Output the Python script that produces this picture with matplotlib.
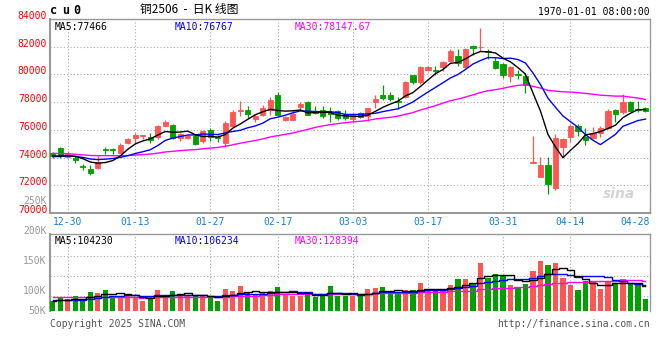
import matplotlib
matplotlib.use("Agg")
import matplotlib.pyplot as plt
import matplotlib.transforms as mtransforms
import numpy as np
import pandas as pd

plt.rcParams['font.family'] = ['DejaVu Sans Mono', 'Noto Sans CJK SC']

# daily candles, 12-26 .. 04-28 (80 sessions)
opens = [74300, 74670, 74050, 74000, 73360, 73210, 73240, 74590, 74590, 74310,
         75020, 75400, 75550, 75500, 75500, 76310, 76380, 75380, 75400, 75590,
         75190, 76020, 75480, 75070, 76260, 77380, 77450, 76790, 77070, 77400,
         78520, 76690, 76740, 77640, 78020, 77380, 77450, 77260, 77380, 77150,
         76790, 77190, 77000, 77980, 78500, 78500, 78070, 78380, 79930, 79450,
         80330, 80330, 80520, 81000, 81360, 80520, 82070, 81950, 81710, 81000,
         80740, 79900, 80000, 79880, 73640, 72620, 73450, 71810, 74760, 75480,
         76310, 75520, 75430, 75790, 76140, 77450, 77260, 78020, 77500, 77570]
closes = [74100, 74120, 74290, 73810, 73300, 72880, 73690, 74520, 74520, 74930,
          75310, 75640, 75600, 75260, 76310, 76590, 75380, 75670, 75590, 75000,
          75950, 75480, 75380, 76500, 77310, 77450, 77170, 77020, 77590, 78170,
          77050, 76930, 77140, 77880, 77090, 77210, 76980, 77120, 76860, 76850,
          77070, 76950, 77550, 78260, 78310, 78240, 77980, 79450, 79450, 80520,
          80570, 80280, 80930, 81710, 80830, 81830, 81900, 82000, 81590, 80450,
          79950, 80550, 79930, 79240, 73650, 73450, 72100, 75380, 75360, 76310,
          75910, 75260, 75790, 76140, 77380, 77120, 77980, 77380, 77450, 77380]
highs = [74400, 74790, 74450, 74120, 73520, 73450, 74120, 74760, 74710, 75020,
         75400, 75740, 75640, 75790, 76380, 76740, 76450, 75740, 75640, 75690,
         76020, 76100, 75600, 76620, 77450, 78050, 77740, 77090, 77810, 78400,
         78710, 77020, 77450, 77980, 78050, 77690, 77690, 77640, 77450, 77400,
         77190, 77260, 77590, 78550, 79260, 78740, 78380, 79500, 79970, 80590,
         80640, 80640, 81000, 81830, 81830, 81900, 82140, 83330, 81830, 81240,
         80830, 80590, 80310, 80070, 75550, 74070, 74070, 75720, 75430, 76450,
         76450, 76140, 76210, 76260, 77500, 77500, 78600, 78100, 78050, 77620]
lows = [74000, 74000, 73980, 73640, 73100, 72740, 73170, 74240, 74290, 74260,
        74980, 74950, 75310, 75020, 75310, 76260, 75360, 75190, 75310, 74880,
        75070, 75190, 75140, 74830, 76210, 76980, 76880, 76550, 77020, 77090,
        76980, 76620, 76690, 77330, 77050, 77160, 76860, 76570, 76740, 76740,
        76640, 76880, 76640, 77590, 78120, 78070, 77500, 78310, 79330, 79330,
        80280, 79930, 80280, 80880, 80640, 80450, 81400, 81660, 81120, 80400,
        79760, 79480, 79640, 78690, 73640, 72620, 71340, 71690, 74050, 75140,
        75550, 74880, 75310, 75480, 76070, 76550, 77170, 77330, 77260, 77260]
volumes = [82800, 88400, 86200, 91700, 85600, 97800, 96200, 101200, 91700, 90600,
           91700, 88400, 83400, 88400, 101200, 92800, 99500, 94500, 90600, 90600,
           91700, 87300, 83400, 102800, 99500, 107800, 95600, 94500, 95600, 99500,
           106200, 94500, 91700, 91700, 94000, 90000, 94500, 107800, 91700, 91700,
           91700, 91700, 102800, 104500, 106200, 94500, 94500, 101200, 101200, 112800,
           101200, 100000, 102800, 109500, 119500, 119500, 112800, 146200, 121700, 127800,
           126200, 109500, 106200, 111200, 132800, 149500, 142800, 146200, 121700, 109500,
           101200, 116200, 116200, 102800, 115000, 112800, 119500, 111200, 109500, 86200]

# sessions before the window, estimated so the averages start where the picture does
prev_closes = [74600, 74750, 74900, 74500, 74300, 74100, 74400, 74700, 75000, 74900,
               74600, 74450, 74300, 74200, 74100, 74000, 74150, 74300, 74200, 74050,
               74000, 73900, 74100, 74050, 74000, 74150, 74200, 74050, 74100]
prev_volumes = [95000, 92000, 98000, 88000, 90000, 94000, 97000, 91000, 89000, 93000,
                96000, 92000, 88000, 90000, 94000, 91000, 95000, 89000, 92000, 90000,
                86000, 84000, 88000, 85000, 83000, 82000, 84000, 81000, 83000]

# legend readouts as printed on the chart
price_ma_text = ["MA5:77466", "MA10:76767", "MA30:78147.67"]
vol_ma_text = ["MA5:104230", "MA10:106234", "MA30:128394"]

date_labels = ["12-30", "01-13", "01-27", "02-17", "03-03", "03-17", "03-31", "04-14"]
date_pos = [2, 11, 21, 30, 40, 50, 60, 69]
last_date = "04-28"

price_ticks = [70000, 72000, 74000, 76000, 78000, 80000, 82000, 84000]
vol_tick_values = [250000, 200000, 150000, 100000]
vol_tick_labels = ["250K", "200K", "150K", "100K"]
vol_grid = [91700, 125000, 158300]

UP = "#ff5555"
DOWN = "#00a000"
GRID = "#aaaaaa"
FRAME = "#999999"
MA_COLORS = ["black", "#0000ff", "#ff00ff"]
W, H = 660, 360

n = len(closes)
x = np.arange(n)
colors = [UP if c >= o else DOWN for o, c in zip(opens, closes)]

close_s = pd.Series(prev_closes + closes, dtype=float)
vol_s = pd.Series(prev_volumes + volumes, dtype=float)
ma = {k: close_s.rolling(k).mean().to_numpy()[len(prev_closes):] for k in (5, 10, 30)}
vma = {k: vol_s.rolling(k).mean().to_numpy()[len(prev_volumes):] for k in (5, 10, 30)}

fig = plt.figure(figsize=(W / 100, H / 100), dpi=100)
ax = fig.add_axes([50 / W, 1 - 213 / H, 600 / W, 194 / H])
axv = fig.add_axes([50 / W, 1 - 311 / H, 600 / W, 77 / H])

# ---- price panel
ax.vlines(x, lows, highs, colors=colors, linewidth=0.9, zorder=3)
body_bottom = np.minimum(opens, closes)
body_height = np.abs(np.array(closes) - np.array(opens))
ax.bar(x, body_height, bottom=body_bottom, width=0.7, color=colors,
       edgecolor=colors, linewidth=0.6, zorder=4)
ax.plot(x, ma[30], color="#ff00ff", linewidth=1.0, zorder=5)
ax.plot(x, ma[10], color="#0000ff", linewidth=1.0, zorder=5)
ax.plot(x, ma[5], color="black", linewidth=1.0, zorder=5)

ax.set_xlim(-0.36, 79.6)
ax.set_ylim(70000, 84000)
ax.set_yticks(price_ticks)
ax.set_yticklabels([str(v) for v in price_ticks], color="red", fontsize=7)
for lbl in ax.get_yticklabels():
    lbl.set_va("baseline")
ax.set_xticks(date_pos)
ax.set_xticklabels(date_labels, color="#1a7fd4", fontsize=7)
ax.tick_params(length=0, pad=2)
ax.tick_params(axis="x", pad=3)
ax.grid(True, color=GRID, linestyle=(0, (1, 2)), linewidth=0.8)
ax.set_axisbelow(True)
for side, sp in ax.spines.items():
    sp.set_color(FRAME)
    sp.set_linewidth(1.5 if side in ("left", "bottom") else 1.0)
ax.text(1.0, -0.045, last_date, transform=ax.transAxes, ha="right", va="center",
        color="#1a7fd4", fontsize=7)

for xpos, txt, col in zip([0.008, 0.207, 0.407], price_ma_text, MA_COLORS):
    ax.text(xpos, 0.985, txt, transform=ax.transAxes, color=col, fontsize=7, va="top")
ax.text(0.975, 0.06, "sina", transform=ax.transAxes, ha="right", va="bottom",
        color="#d4d4d4", fontsize=10, fontweight="bold", style="italic",
        family="DejaVu Sans")

# ---- volume panel
axv.bar(x, volumes, width=0.7, color=colors, zorder=3)
axv.step(x, vma[30], where="mid", color="#ff00ff", linewidth=1.0, zorder=4)
axv.step(x, vma[10], where="mid", color="#0000ff", linewidth=1.0, zorder=4)
axv.step(x, vma[5], where="mid", color="black", linewidth=1.0, zorder=4)
axv.set_xlim(-0.36, 79.6)
axv.set_ylim(66200, 194500)
axv.set_xticks(date_pos)
axv.set_yticks(vol_grid)
axv.set_xticklabels([])
axv.set_yticklabels([])
axv.tick_params(length=0)
axv.grid(True, color=GRID, linestyle=(0, (1, 2)), linewidth=0.8)
axv.set_axisbelow(True)
for side, sp in axv.spines.items():
    sp.set_color(FRAME)
    sp.set_linewidth(1.0)
axv.spines["bottom"].set_visible(False)
axv.spines["left"].set_linewidth(1.5)

trans = mtransforms.blended_transform_factory(axv.transAxes, axv.transData)
for v, lab in zip(vol_tick_values, vol_tick_labels):
    axv.text(-0.006, v, lab, transform=trans, ha="right", va="center",
             color="#999999", fontsize=7, clip_on=False)
axv.text(-0.006, 0.0, "50K", transform=axv.transAxes, ha="right", va="center",
         color="#999999", fontsize=7)

for xpos, txt, col in zip([0.008, 0.207, 0.407], vol_ma_text, MA_COLORS):
    axv.text(xpos, 0.98, txt, transform=axv.transAxes, color=col, fontsize=7, va="top")

# ---- header / footer
for i, ch in enumerate("cu0"):
    fig.text((50 + i * 11.7) / W, 1 - 10 / H, ch, fontsize=8.5, fontweight="bold",
             va="center", ha="left")
fig.text(140 / W, 1 - 9 / H, "铜2506  -  日K 线图", fontsize=8.5, va="center", ha="left",
         family=["Noto Sans CJK SC", "DejaVu Sans"])
fig.text(650 / W, 1 - 12 / H, "1970-01-01 08:00:00", fontsize=7, va="center", ha="right")
fig.text(50 / W, 1 - 324 / H, "Copyright 2025 SINA.COM", fontsize=7, va="center",
         ha="left", color="#555555")
fig.text(650 / W, 1 - 324 / H, "http://finance.sina.com.cn", fontsize=7, va="center",
         ha="right", color="#555555")

fig.savefig("out.png", dpi=100, facecolor="white")
